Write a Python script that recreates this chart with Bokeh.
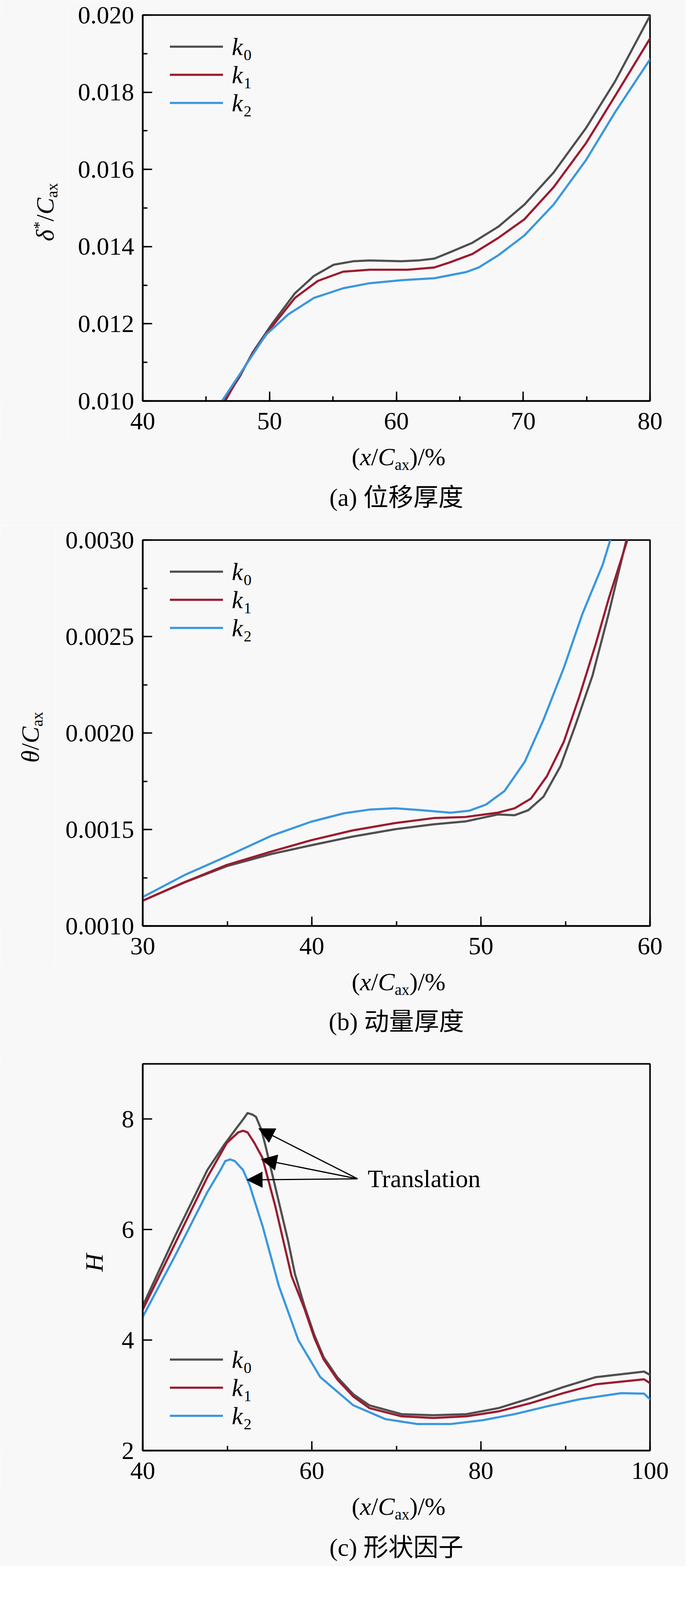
import math
from bokeh.plotting import figure
from bokeh.layouts import column, row
from bokeh.models import (Range1d, SingleIntervalTicker, PrintfTickFormatter, Label,
                          Legend, LegendItem, Arrow, NormalHead, ColumnDataSource)
from bokeh.embed import file_html
from bokeh.resources import INLINE

# ---------------- data ----------------
series_names = ["k", "k", "k"]
series_subs = ["0", "1", "2"]
colors = ["#4f4f4f", "#9c1b30", "#3a97e0"]

# (a) displacement thickness
a_x_k0 = [46.4, 47.65, 48.67, 50.2, 52.0, 53.5, 55.05, 56.6, 57.9, 60.4, 61.7, 63.0, 64.2, 66.0, 68.06, 70.1, 72.4, 74.95, 77.24, 80.0]
a_k0 = [0.0100, 0.01063, 0.01126, 0.0120, 0.01279, 0.01324, 0.01353, 0.01362, 0.01364, 0.01362, 0.01364, 0.01369, 0.01385, 0.0141, 0.01452, 0.01509, 0.01592, 0.01707, 0.01828, 0.01998]
a_x_k1 = [46.5, 47.7, 48.67, 50.2, 52.0, 53.8, 55.8, 57.9, 60.9, 63.0, 64.2, 66.0, 68.06, 70.1, 72.4, 74.95, 77.24, 80.0]
a_k1 = [0.0100, 0.01070, 0.01123, 0.01193, 0.01267, 0.01311, 0.01335, 0.0134, 0.0134, 0.01346, 0.01359, 0.01381, 0.01423, 0.01471, 0.01554, 0.01668, 0.0179, 0.01939]
a_x_k2 = [46.25, 47.65, 49.7, 51.5, 53.5, 55.8, 57.86, 60.4, 63.0, 65.5, 66.5, 68.06, 70.1, 72.4, 74.95, 77.24, 80.0]
a_k2 = [0.0100, 0.01069, 0.01171, 0.01225, 0.01267, 0.01292, 0.01305, 0.01313, 0.01318, 0.01334, 0.01346, 0.01378, 0.01429, 0.01509, 0.01624, 0.01748, 0.01885]

# (b) momentum thickness
b_x_k0 = [30, 32.5, 34.97, 37.65, 39.95, 42.4, 44.9, 47.2, 49.1, 50.0, 51.0, 52.0, 52.8, 53.7, 54.7, 55.6, 56.6, 57.55, 58.6]
b_k0 = [0.001131, 0.001227, 0.00131, 0.001374, 0.001418, 0.001463, 0.001501, 0.001527, 0.001542, 0.001559, 0.001578, 0.001574, 0.0016, 0.00167, 0.001827, 0.002043, 0.002298, 0.002617, 0.0030]
b_x_k1 = [30, 32.5, 34.97, 37.65, 39.95, 42.4, 44.9, 47.2, 49.1, 51.0, 52.0, 52.96, 53.9, 54.9, 55.8, 56.8, 57.55, 58.66]
b_k1 = [0.001131, 0.001228, 0.001316, 0.001387, 0.001444, 0.001495, 0.001533, 0.001559, 0.001565, 0.001587, 0.00161, 0.00166, 0.001776, 0.001954, 0.002184, 0.002464, 0.002694, 0.0030]
b_x_k2 = [30, 32.5, 34.97, 37.65, 39.95, 41.9, 43.4, 44.9, 46.45, 48.2, 49.3, 50.3, 51.4, 52.6, 53.7, 54.9, 56.0, 57.2, 57.65]
b_k2 = [0.00115, 0.001265, 0.001361, 0.001469, 0.00154, 0.001584, 0.001603, 0.00161, 0.0016, 0.001587, 0.001597, 0.001629, 0.0017, 0.001852, 0.002069, 0.002337, 0.002617, 0.002872, 0.0030]

# (c) shape factor
c_x_k0 = [40, 43.8, 47.65, 49.6, 51.1, 51.9, 52.4, 53.0, 53.4, 54.0, 54.5, 56.1, 57.2, 58.0, 59.1, 60.3, 61.4, 63.0, 64.9, 66.8, 70.6, 74.4, 78.3, 82.1, 85.9, 89.75, 93.6, 99.3, 100]
c_k0 = [4.62, 5.875, 7.08, 7.53, 7.84, 8.0, 8.11, 8.08, 8.04, 7.82, 7.53, 6.5, 5.79, 5.2, 4.63, 4.09, 3.69, 3.33, 3.02, 2.82, 2.66, 2.64, 2.66, 2.77, 2.95, 3.15, 3.33, 3.43, 3.37]
c_x_k1 = [40, 43.8, 47.65, 49.95, 51.3, 51.86, 52.4, 53.2, 54.16, 55.7, 57.6, 59.1, 60.3, 61.4, 63.0, 64.9, 66.8, 70.6, 74.4, 78.3, 82.1, 85.9, 89.75, 93.6, 99.3, 100]
c_k1 = [4.55, 5.74, 6.95, 7.57, 7.76, 7.79, 7.76, 7.57, 7.30, 6.41, 5.16, 4.58, 4.04, 3.65, 3.29, 2.98, 2.77, 2.62, 2.59, 2.62, 2.71, 2.86, 3.04, 3.2, 3.29, 3.22]
c_x_k2 = [40, 43.8, 47.65, 49.2, 49.76, 50.33, 50.9, 51.86, 52.63, 54.2, 56.1, 58.4, 61.0, 64.9, 68.7, 72.5, 76.4, 80.2, 84.0, 87.8, 91.7, 96.6, 99.3, 100]
c_k2 = [4.42, 5.52, 6.68, 7.08, 7.24, 7.27, 7.24, 7.08, 6.81, 6.05, 4.98, 4.0, 3.33, 2.82, 2.57, 2.48, 2.48, 2.55, 2.66, 2.8, 2.93, 3.04, 3.03, 2.93]

# annotation in (c): arrows and the label (label y = its vertical centre)
arrow_tail_x = [65.4, 65.4, 65.4]
arrow_tail_y = [6.92, 6.92, 6.92]
arrow_head_x = [53.7, 54.0, 52.3]
arrow_head_y = [7.83, 7.27, 6.90]
annot_text = "Translation"
annot_x = 66.6
annot_y = 6.92

captions = ["(a) 位移厚度", "(b) 动量厚度", "(c) 形状因子"]

# ---------------- style helpers ----------------
SERIF = "Liberation Serif"
CJK = "Liberation Serif, Noto Sans CJK SC"
FS = 64
SUB = 40
BG = "#f8f8f8"
PAGE_W = 1756
FRAME_W = 1299
FRAME_LEFT = 365    # frame left edge, from the figure's left
TICK_BORDER = 106   # space under the frame for tick labels
YLAB_FIX = -118     # empirical along-text correction for rotated labels
ROW = 72            # legend row pitch
BASE_CORR = 0.34    # labels render about this many em below the requested baseline

WID = {"(": .333, ")": .333, "/": .278, "%": .833, "a": .444, "x": .5, " ": .25,
       "*": .5, "C": .667, "k": .444, "H": .722, "δ": .5, "θ": .5}
WID_I = {"x": .444, "C": .667, "k": .444, "H": .722, "δ": .48, "θ": .5}


def tw(s, size, italic=False):
    tot = 0.0
    for ch in s:
        if italic and ch in WID_I:
            tot += WID_I[ch]
        else:
            tot += WID.get(ch, 0.5)
    return tot * size


def mk_label(p, x, y, text, size=FS, italic=False, angle=0.0, align="left", font=SERIF):
    # (x, y) is the wanted baseline point
    if angle == 0.0:
        y = y + BASE_CORR * size
    else:
        x = x - BASE_CORR * size
    p.add_layout(Label(x=x, y=y, x_units="screen", y_units="screen", text=text,
                       text_font=font, text_font_size=f"{size}px",
                       text_font_style="italic" if italic else "normal",
                       text_color="black", text_align=align, text_baseline="alphabetic",
                       angle=angle))


def compose_h(p, x0, y0, pieces):
    x = x0
    for t, s, it, sh in pieces:
        mk_label(p, x, y0 - sh, t, s, it)
        x += tw(t, s, it)


def compose_v(p, xb, y0, pieces):
    y = y0
    for t, s, it, sh in pieces:
        mk_label(p, xb + sh, y, t, s, it, angle=math.pi / 2)
        y += tw(t, s, it)


def strip(w, h):
    s = figure(width=w, height=h, x_range=Range1d(0, w), y_range=Range1d(0, h),
               output_backend="svg", toolbar_location=None,
               x_axis_location=None, y_axis_location=None,
               min_border=0, min_border_left=0, min_border_right=0,
               min_border_top=0, min_border_bottom=0,
               background_fill_color=BG, border_fill_color=BG, outline_line_color=None)
    s.grid.visible = False
    return s


XLAB = [("(", FS, False, 0), ("x", FS, True, 0), ("/", FS, False, 0),
        ("C", FS, True, 0), ("ax", SUB, False, 12), (")/%", FS, False, 0)]


def make_panel(xr, yr, xint, yint, yminor, yfmt, top, frame_h, bottom_h,
               xs, ys, legend_bottom, xlab_base, cap_base, caption,
               ylab_pieces, ylab_xb, ylab_y0, left_w):
    main_h = top + frame_h + TICK_BORDER
    p = figure(frame_width=FRAME_W, frame_height=frame_h,
               x_range=Range1d(*xr), y_range=Range1d(*yr),
               output_backend="svg", toolbar_location=None,
               min_border_left=FRAME_LEFT - left_w, min_border_right=PAGE_W - FRAME_LEFT - FRAME_W,
               min_border_top=top, min_border_bottom=TICK_BORDER,
               background_fill_color=BG, border_fill_color=BG,
               outline_line_color="black", outline_line_width=4)
    p.grid.visible = False
    p.xaxis.ticker = SingleIntervalTicker(interval=xint, num_minor_ticks=2)
    p.yaxis.ticker = SingleIntervalTicker(interval=yint, num_minor_ticks=yminor)
    p.yaxis.formatter = PrintfTickFormatter(format=yfmt)
    p.xaxis.formatter = PrintfTickFormatter(format="%d")
    for ax in (p.xaxis[0], p.yaxis[0]):
        ax.axis_line_width = 4
        ax.axis_line_color = "black"
        ax.major_tick_in = 24
        ax.major_tick_out = 0
        ax.minor_tick_in = 12
        ax.minor_tick_out = 0
        ax.major_tick_line_width = 3.5
        ax.minor_tick_line_width = 3.5
        ax.major_tick_line_color = "black"
        ax.minor_tick_line_color = "black"
        ax.major_label_text_font = SERIF
        ax.major_label_text_font_size = f"{FS}px"
        ax.major_label_text_color = "black"
    if yminor < 2:
        p.yaxis[0].minor_tick_line_color = None
    p.xaxis[0].major_label_standoff = 30
    p.yaxis[0].major_label_standoff = 22

    rends = []
    for x, y, c in zip(xs, ys, colors):
        rends.append(p.line(x, y, line_color=c, line_width=5.5, line_join="round", line_cap="round"))

    # legend: line keys from Bokeh's Legend, italic "k" + subscript as labels
    leg = Legend(items=[LegendItem(label=" ", renderers=[r]) for r in rends],
                 location=(70, legend_bottom), orientation="vertical",
                 glyph_width=136, glyph_height=ROW, label_height=ROW, label_width=1,
                 spacing=0, padding=0, margin=0, label_standoff=0,
                 label_text_font=SERIF, label_text_font_size="10px",
                 border_line_color=None, background_fill_alpha=0)
    p.add_layout(leg)
    ltop = legend_bottom + 3 * ROW
    for i, (n, s) in enumerate(zip(series_names, series_subs)):
        center = ltop - ROW / 2 - ROW * i
        kx = 70 + 136 + 22
        mk_label(p, kx, center - 22, n, FS, True)
        mk_label(p, kx + tw(n, FS, True) + 2, center - 35, s, SUB)

    # left strip: y-axis label
    ls = strip(left_w, main_h)
    compose_v(ls, ylab_xb - 8, TICK_BORDER + ylab_y0 + YLAB_FIX, ylab_pieces)

    # bottom strip: x-axis label and caption
    bs = strip(PAGE_W, bottom_h)
    compose_h(bs, FRAME_LEFT + 535, bottom_h - (xlab_base - TICK_BORDER), XLAB)
    mk_label(bs, FRAME_LEFT + FRAME_W / 2, bottom_h - (cap_base - TICK_BORDER), caption,
             FS, False, align="center", font=CJK)
    return p, column(row(ls, p, spacing=0), bs, spacing=0)


# panel heights: a 38+988+106+212 = 1344, b 38+988+106+223 = 1355, c 24+990+106+190 = 1310
pa, la = make_panel((40, 80), (0.010, 0.020), 10, 0.002, 2, "%.3f", 38, 988, 212,
                    [a_x_k0, a_x_k1, a_x_k2], [a_k0, a_k1, a_k2], 727, 165, 269, captions[0],
                    [("δ", FS, True, 0), ("*", SUB, False, -24), ("/", FS, False, 0),
                     ("C", FS, True, 0), ("ax", SUB, False, 10)], 145, 421, 172)

pb, lb = make_panel((30, 60), (0.0010, 0.0030), 10, 0.0005, 2, "%.4f", 38, 988, 223,
                    [b_x_k0, b_x_k1, b_x_k2], [b_k0, b_k1, b_k2], 727, 165, 267, captions[1],
                    [("θ", FS, True, 0), ("/", FS, False, 0),
                     ("C", FS, True, 0), ("ax", SUB, False, 10)], 107, 430, 142)

pc, lc = make_panel((40, 100), (2, 9), 20, 2, 0, "%d", 24, 990, 190,
                    [c_x_k0, c_x_k1, c_x_k2], [c_k0, c_k1, c_k2], 53, 165, 270, captions[2],
                    [("H", FS, True, 0)], 271, 470, 282)

arr_src = ColumnDataSource(dict(x0=arrow_tail_x, y0=arrow_tail_y, x1=arrow_head_x, y1=arrow_head_y))
pc.add_layout(Arrow(end=NormalHead(size=40, fill_color="black", line_color="black", line_width=1),
                    x_start="x0", y_start="y0", x_end="x1", y_end="y1", source=arr_src,
                    line_color="black", line_width=3))
pc.add_layout(Label(x=annot_x, y=annot_y, text=annot_text, text_font=SERIF,
                    text_font_size=f"{FS}px", text_color="black", text_align="left",
                    text_baseline="alphabetic"))

layout = column(la, lb, lc, spacing=0)
open("out.html", "w").write(file_html(layout, INLINE))
